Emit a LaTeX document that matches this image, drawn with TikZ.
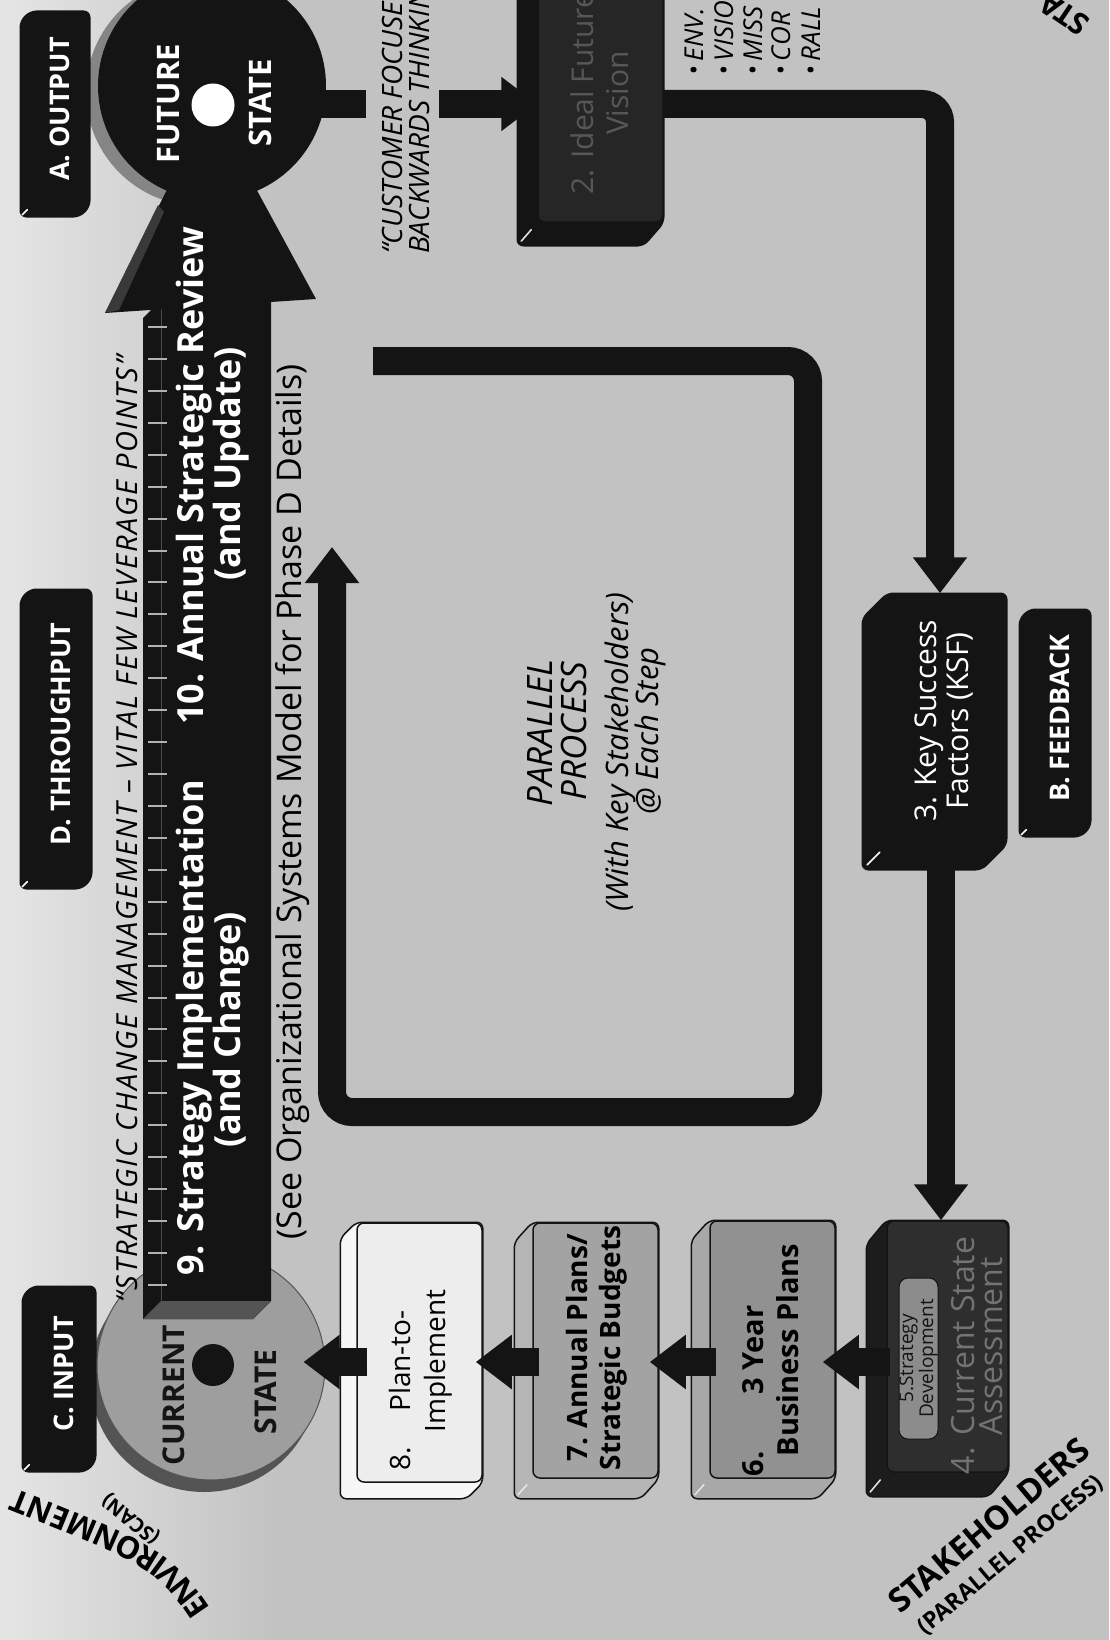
\documentclass[tikz,border=0pt]{standalone}
\usepackage{fontspec}
\setmainfont{Open Sans}
\usetikzlibrary{arrows.meta,decorations.text,calc}
\pgfdeclarelayer{bglayer}
\pgfdeclarelayer{backlayer}
\pgfsetlayers{bglayer,backlayer,main}
\definecolor{ink}{gray}{0.08}
\definecolor{bgc}{gray}{0.76}
\definecolor{bglight}{gray}{0.9}
\definecolor{tickc}{gray}{0.7}
\definecolor{f7}{gray}{0.64}
\definecolor{s7}{gray}{0.71}
\definecolor{f6}{gray}{0.57}
\definecolor{s6}{gray}{0.66}
\definecolor{f8}{gray}{0.93}
\definecolor{s8}{gray}{0.97}
\definecolor{f4}{gray}{0.18}
\definecolor{s4}{gray}{0.11}
\definecolor{t4}{gray}{0.45}
\definecolor{f5}{gray}{0.55}
\definecolor{f2}{gray}{0.15}
\definecolor{s2}{gray}{0.08}
\definecolor{t2}{gray}{0.34}
\definecolor{csfill}{gray}{0.62}
\definecolor{csrim}{gray}{0.33}
\definecolor{fsrim}{gray}{0.52}
\definecolor{barside}{gray}{0.33}
\newcommand\fs[2]{\fontsize{#1pt}{#2pt}\selectfont}
\newcommand\envfont{\bfseries\fontsize{31pt}{32pt}\selectfont}
\newcommand\mkslab[5]{%
  \begin{pgfonlayer}{backlayer}
  \filldraw[fill=#4, draw=ink, line width=#5, rounded corners=6, line join=round]
    (#1.north west) -- (#1.north east) -- (#1.south east)
    -- ([shift={(-#2,#3)}]#1.south east) -- ([shift={(-#2,#3)}]#1.south west)
    -- ([shift={(-#2,#3)}]#1.north west) -- cycle;
  \end{pgfonlayer}}
\newcommand\mkhl[4]{%
  \draw[#4, line width=1.6, line cap=round]
    ($(#1.south west)+(-0.3*#2,0.3*#3)$) -- ($(#1.south west)+(-0.8*#2,0.8*#3)$);}
\tikzset{
  face/.style={draw=ink, line width=1.5, rounded corners=7, inner sep=0},
  rt/.style={rotate=90, inner sep=0, align=center},
  lab/.style={rotate=90, inner sep=0, text=white, font=\bfseries\fs{27}{28}},
  conn/.style={draw=ink, line width=28},
  tip/.style={-{Triangle[width=52pt,length=36pt]}},
  bartxt/.style={rotate=90, inner sep=0, anchor=base, text=white, font=\bfseries\fs{36}{40}}
}
\begin{document}
\begin{tikzpicture}[x=1pt,y=-1pt]
\useasboundingbox (0,0) rectangle (1109,1640);
\begin{pgfonlayer}{bglayer}
\fill[bgc] (0,0) rectangle (1109,1640);
\shade[left color=bglight, right color=bgc] (0,0) rectangle (280,1640);
\end{pgfonlayer}

% ---------- coordinates for connectors
\coordinate (K2) at (940,104);
\coordinate (K3) at (941,0);
\coordinate (R) at (0,1362);
\coordinate (Q1) at (366,104);
\coordinate (Q2) at (439,104);
\coordinate (L0) at (373,361);
\coordinate (Lc1) at (808,361);
\coordinate (Lc2) at (808,1112);
\coordinate (Lc3) at (332,1112);
\coordinate (L1) at (332,547);
\coordinate (EN0) at (219,1622);
\coordinate (EN1) at (172,1551);
\coordinate (EN2) at (1,1483);

% ---------- state circles
\node[circle, fill=ink, minimum size=228, inner sep=0] (FS) at (212,86) {};
\begin{pgfonlayer}{backlayer}
\fill[fsrim] ($(FS)+(-12,6)$) circle[radius=114];
\end{pgfonlayer}
\node[circle, fill=csfill, draw=csrim, line width=1, minimum size=228, inner sep=0] (CS) at (211,1366) {};
\begin{pgfonlayer}{backlayer}
\fill[csrim] ($(CS)+(-7,12)$) circle[radius=114];
\end{pgfonlayer}

% ---------- big implementation bar with arrowhead
\fill[ink] (161,300) -- (271,300) -- (271,1301) -- (253,1319) -- (143,1319) -- (143,318) -- cycle;
\fill[barside] (161,1301) -- (271,1301) -- (253,1319) -- (143,1319) -- cycle;
\draw[gray!60!black, line width=1] (161,300) -- (161,1301);
\fill[ink] (105,313) -- (316,299) -- (210,104) -- cycle;
\fill[gray!45!black] (105,313) -- (119,310) -- (164,212) -- (158,205) -- cycle;
\foreach \i in {0,...,30}{\draw[tickc, line width=2] (148,{327+31.93*\i}) -- (167,{327+31.93*\i});}
\node[bartxt] (T9) at (203,1028) {9. Strategy Implementation};
\node[bartxt] (T9b) at (240,1030) {(and Change)};
\node[bartxt] (T10) at (203,476) {10. Annual Strategic Review};
\node[bartxt] (T10b) at (240,464) {(and Update)};

% ---------- dots and state texts
\node[circle, fill=white, minimum size=43, inner sep=0] (FSd) at (213,105) {};
\node[circle, fill=ink, minimum size=42, inner sep=0] (CSd) at (213,1365) {};
\node[rotate=90, anchor=base, inner sep=0, text=white, font=\bfseries\fs{31}{32}] (FS1) at (179,104) {FUTURE};
\node[rotate=90, anchor=base, inner sep=0, text=white, font=\bfseries\fs{31}{32}] (FS2) at (271,103) {STATE};
\node[rotate=90, anchor=base, inner sep=0, text=ink, font=\bfseries\fs{30}{32}] (CS1) at (184,1395) {CURRENT};
\node[rotate=90, anchor=base, inner sep=0, text=ink, font=\bfseries\fs{30}{32}] (CS2) at (276,1392) {STATE};

% ---------- quotes around the bar
\node[rotate=90, anchor=base, inner sep=0, font=\itshape\fs{29}{30}\addfontfeatures{LetterSpace=6}] (QT) at (137,829) {“STRATEGIC CHANGE MANAGEMENT – VITAL FEW LEVERAGE POINTS”};
\node[rotate=90, anchor=base, inner sep=0, font=\fs{34}{36}] (SEE) at (301,802) {(See Organizational Systems Model for Phase D Details)};

% ---------- label boxes
\node[face, fill=ink, minimum width=58, minimum height=194] (LA) at (60,109) {};
\mkslab{LA}{10}{10}{ink}{1.5}
\node[lab] (LAt) at (LA) {A.\ OUTPUT};
\mkhl{LA}{10}{10}{white}
\node[face, fill=ink, minimum width=60, minimum height=288] (LD) at (61,734) {};
\mkslab{LD}{10}{10}{ink}{1.5}
\node[lab] (LDt) at (LD) {D.\ THROUGHPUT};
\mkhl{LD}{10}{10}{white}
\node[face, fill=ink, minimum width=62, minimum height=174] (LC) at (64,1374) {};
\mkslab{LC}{10}{10}{ink}{1.5}
\node[lab] (LCt) at (LC) {C.\ INPUT};
\mkhl{LC}{10}{10}{white}
\node[face, fill=ink, minimum width=60, minimum height=216] (LB) at (1060,718) {};
\mkslab{LB}{10}{10}{ink}{1.5}
\node[lab] (LBt) at (LB) {B.\ FEEDBACK};
\mkhl{LB}{10}{10}{white}

% ---------- step boxes
\node[face, fill=f2, minimum width=125, minimum height=302] (B2) at (600.5,71) {};
\mkslab{B2}{20}{23}{s2}{1.5}
\node[rt, text=t2, font=\fs{30}{35}] (B2t) at (600,93) {2. Ideal Future\\Vision};
\mkhl{B2}{20}{23}{white!75!gray}

\node[face, fill=ink, minimum width=118, minimum height=250] (B3) at (947,719) {};
\mkslab{B3}{25}{25}{ink}{1.5}
\node[rt, text=white, font=\fs{30}{32}] (B3t) at (944,721) {3. Key Success\\Factors (KSF)};
\mkhl{B3}{25}{25}{white}

\node[face, fill=f4, minimum width=121, minimum height=251] (B4) at (947.5,1346.5) {};
\mkslab{B4}{20}{24}{s4}{1.5}
\node[face, fill=f5, line width=1, rounded corners=9, minimum width=39, minimum height=161] (B5) at (918.5,1358.5) {};
\node[rt, text=ink, font=\fs{19}{17}] (B5t) at (B5) {5.Strategy\\Development};
\node[rt, align=left, text=t4, font=\fs{32}{28}] (B4t) at (977,1336) {\llap{4.\hspace{12pt}}Current State\\Assessment};
\mkhl{B4}{20}{24}{white!75!gray}

\node[face, fill=f6, minimum width=125, minimum height=257] (B6) at (772.5,1349.5) {};
\mkslab{B6}{18}{20}{s6}{1.5}
\node[rt, font=\bfseries\fs{29}{35}] (B6t) at (771,1350) {\llap{6.\hspace{57pt}}3 Year\\Business Plans};
\mkhl{B6}{18}{20}{white!80!gray}

\node[face, fill=f7, minimum width=125, minimum height=255] (B7) at (595.5,1350.5) {};
\mkslab{B7}{18}{20}{s7}{1.5}
\node[rt, font=\bfseries\fs{28}{33}] (B7t) at (597,1348) {7. Annual Plans/\\Strategic Budgets};
\mkhl{B7}{18}{20}{white!80!gray}

\node[face, fill=f8, minimum width=125, minimum height=259] (B8) at (419.5,1352.5) {};
\mkslab{B8}{16}{16}{s8}{1.5}
\node[rt, font=\fs{28}{35}] (B8t) at (421,1361) {\llap{8.\hspace{35pt}}Plan-to-\\Implement};

% ---------- connectors
\draw[conn] ($(FS.east |- K2)+(-8,0)$) -- (Q1);
\draw[conn, tip] (Q2) -- (B2.west |- K2);
\draw[conn, tip, rounded corners=18] (B2.east |- K2) -- (K2) -- (K2 |- B3.north);
\draw[conn, tip] (B3.south -| K3) -- (B4.north -| K3);
\draw[conn, tip] ($(B4.west |- R)+(4,0)$) -- ($(B6.east |- R)+(-13,0)$);
\draw[conn, tip] ($(B6.west |- R)+(7,0)$) -- ($(B7.east |- R)+(-9,0)$);
\draw[conn, tip] ($(B7.west |- R)+(7,0)$) -- ($(B8.east |- R)+(-7,0)$);
\draw[conn, tip] ($(B8.west |- R)+(11,0)$) -- ($(CS.east |- R)+(-22,0)$);
\draw[conn, tip, rounded corners=20] (L0) -- (Lc1) -- (Lc2) -- (Lc3) -- (L1);

% ---------- free texts
\node[rotate=90, anchor=base west, inner sep=0, font=\itshape\fs{28}{28}] (CF1) at (402,254) {“CUSTOMER FOCUSED};
\node[rotate=90, anchor=base west, inner sep=0, font=\itshape\fs{28}{28}] (CF2) at (429,254) {BACKWARDS THINKING”};
\node[rotate=90, anchor=base west, inner sep=0, font=\itshape\fs{26}{28}] (BL1) at (703,76) {•\hspace{5pt}ENV.};
\node[rotate=90, anchor=base west, inner sep=0, font=\itshape\fs{26}{28}] (BL2) at (733,76) {•\hspace{5pt}VISIO};
\node[rotate=90, anchor=base west, inner sep=0, font=\itshape\fs{26}{28}] (BL3) at (762,76) {•\hspace{5pt}MISS};
\node[rotate=90, anchor=base west, inner sep=0, font=\itshape\fs{26}{28}] (BL4) at (790,76) {•\hspace{5pt}COR};
\node[rotate=90, anchor=base west, inner sep=0, font=\itshape\fs{26}{28}] (BL5) at (820,76) {•\hspace{5pt}RALL};

\node[rotate=90, anchor=base, inner sep=0, font=\itshape\fs{35}{38}] (PP1) at (552,733) {PARALLEL};
\node[rotate=90, anchor=base, inner sep=0, font=\itshape\fs{35}{38}] (PP2) at (586,731) {PROCESS};
\node[rotate=90, anchor=base, inner sep=0, font=\itshape\fs{31}{32}] (PP3) at (628,752) {(With Key Stakeholders)};
\node[rotate=90, anchor=base, inner sep=0, font=\itshape\fs{31}{32}] (PP4) at (658,731) {@ Each Step};

\path[decorate, decoration={text along path, text={|\envfont|ENVIRONMENT}, text align=center}] (EN0) .. controls (EN1) .. (EN2);
\node[rotate=141, inner sep=0, font=\bfseries\fs{20}{22}] (SCAN) at (131,1519) {(SCAN)};
\node[rotate=40, anchor=base west, inner sep=0, font=\bfseries\fs{33}{34}] (STK) at (900,1615) {STAKEHOLDERS};
\node[rotate=40, anchor=base west, inner sep=0, font=\bfseries\fs{23}{25}] (STK2) at (925,1636) {(PARALLEL PROCESS)};
\node[rotate=146, anchor=base west, inner sep=0, font=\bfseries\fs{30}{32}] (STA) at (1092,20) {STA};
\end{tikzpicture}
\end{document}
